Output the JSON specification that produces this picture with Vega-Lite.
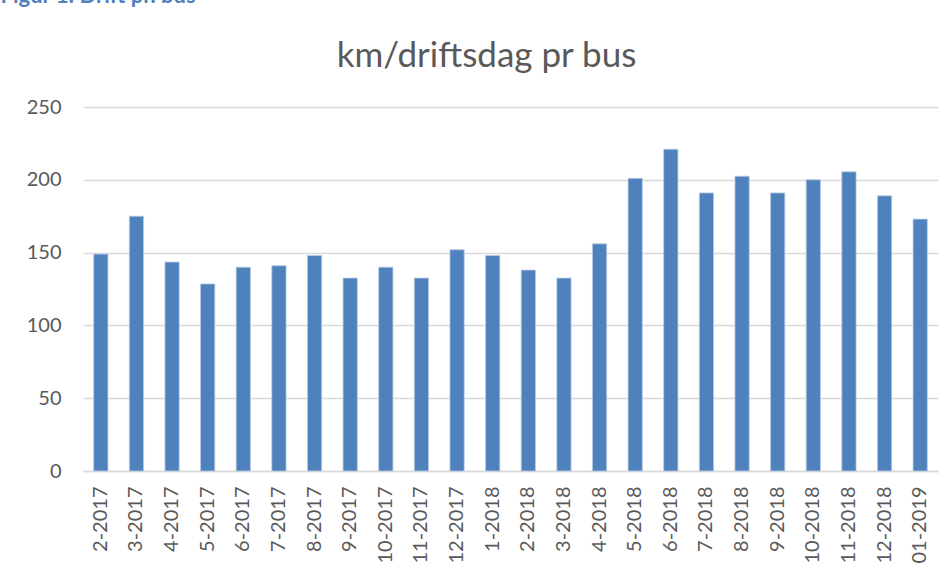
{
  "$schema": "https://vega.github.io/schema/vega-lite/v6.json",
  "autosize": {"type": "none"},
  "padding": {"left": 83, "top": 107, "right": 14, "bottom": 107},
  "width": 855,
  "height": 364,
  "background": "white",
  "title": {
    "text": "km/driftsdag pr bus",
    "font": "Lato",
    "fontSize": 35,
    "fontWeight": "normal",
    "color": "#595959",
    "anchor": "middle",
    "dx": -24,
    "offset": -90
  },
  "data": {
    "values": [
      {"maaned": "2-2017", "km": 149},
      {"maaned": "3-2017", "km": 175},
      {"maaned": "4-2017", "km": 143.5},
      {"maaned": "5-2017", "km": 128.5},
      {"maaned": "6-2017", "km": 140},
      {"maaned": "7-2017", "km": 141},
      {"maaned": "8-2017", "km": 148},
      {"maaned": "9-2017", "km": 132.5},
      {"maaned": "10-2017", "km": 140},
      {"maaned": "11-2017", "km": 132.5},
      {"maaned": "12-2017", "km": 152},
      {"maaned": "1-2018", "km": 148},
      {"maaned": "2-2018", "km": 138},
      {"maaned": "3-2018", "km": 132.5},
      {"maaned": "4-2018", "km": 156},
      {"maaned": "5-2018", "km": 201},
      {"maaned": "6-2018", "km": 221},
      {"maaned": "7-2018", "km": 191},
      {"maaned": "8-2018", "km": 202.5},
      {"maaned": "9-2018", "km": 191},
      {"maaned": "10-2018", "km": 200},
      {"maaned": "11-2018", "km": 205.5},
      {"maaned": "12-2018", "km": 189},
      {"maaned": "01-2019", "km": 173}
    ]
  },
  "mark": {"type": "bar", "color": "#4f81bd", "stroke": "#b8cce4", "strokeWidth": 0.8},
  "encoding": {
    "x": {
      "field": "maaned",
      "type": "nominal",
      "sort": null,
      "scale": {"paddingInner": 0.6, "paddingOuter": 0.3},
      "axis": {
        "title": null,
        "labelAngle": -90,
        "labelAlign": "right",
        "labelBaseline": "middle",
        "labelFont": "Lato",
        "labelFontSize": 20,
        "labelColor": "#595959",
        "labelPadding": 15,
        "ticks": false,
        "domainColor": "#d9d9d9",
        "domainWidth": 1.5,
        "grid": false
      }
    },
    "y": {
      "field": "km",
      "type": "quantitative",
      "scale": {"domain": [0, 250]},
      "axis": {
        "values": [0, 50, 100, 150, 200, 250],
        "title": "Figur 1: Drift pr. bus",
        "titleAngle": 0,
        "titleAlign": "left",
        "titleBaseline": "alphabetic",
        "titleX": -83,
        "titleY": -105,
        "titleFont": "Lato",
        "titleFontSize": 22,
        "titleFontWeight": "bold",
        "titleColor": "#4f81bd",
        "labelFont": "Lato",
        "labelFontSize": 20,
        "labelColor": "#595959",
        "labelPadding": 22,
        "ticks": false,
        "domain": false,
        "gridColor": "#d9d9d9",
        "gridWidth": 1.5
      }
    }
  },
  "config": {"view": {"stroke": null}}
}
